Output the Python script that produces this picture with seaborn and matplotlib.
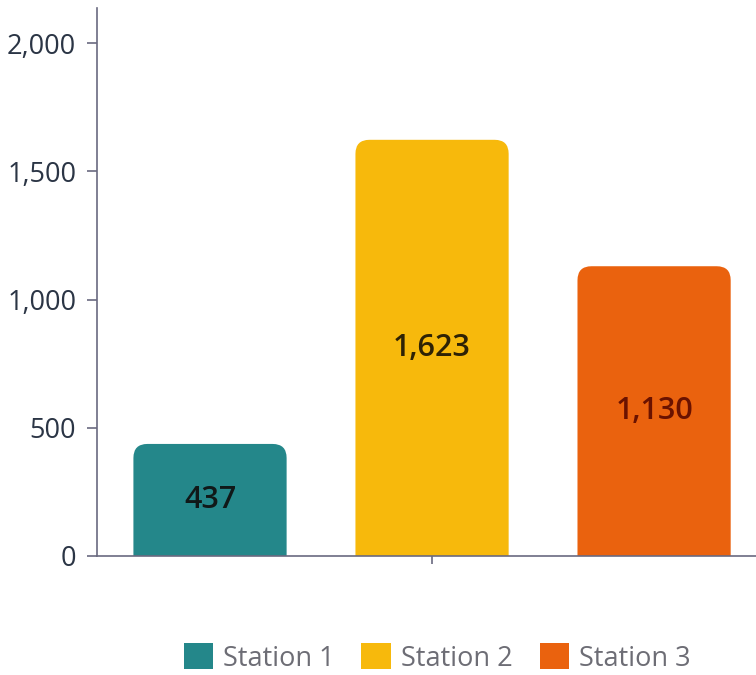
import matplotlib
matplotlib.use("Agg")
import matplotlib.pyplot as plt
import seaborn as sns
import pandas as pd
from matplotlib.patches import FancyBboxPatch, Patch
from matplotlib.ticker import FuncFormatter

stations = ["Station 1", "Station 2", "Station 3"]
values = [437, 1623, 1130]
colors = ["#24878a", "#f7b90c", "#ea620e"]
label_colors = ["#101818", "#2e2205", "#6a1200"]

sns.set_theme(style="white")
plt.rcParams['font.family'] = ['Open Sans', 'DejaVu Sans']

df = pd.DataFrame({"station": stations, "value": values})

fig = plt.figure(figsize=(7.56, 6.75), dpi=100)
ax = fig.add_axes([97/756, 1 - 556/675, 1 - 97/756, (556 - 8)/675])

sns.barplot(data=df, x="station", y="value", hue="station", palette=colors,
            width=0.69, legend=False, ax=ax, saturation=1)

ax.set_xlim(-0.509, 2.459)
ax.set_ylim(0, 2137)

# rounded top corners
ydata_per_px = 2137 / 548
xdata_per_px = (2.459 + 0.509) / 659
aspect = ydata_per_px / xdata_per_px
for p in list(ax.patches):
    x0, y0 = p.get_x(), p.get_y()
    w, h = p.get_width(), p.get_height()
    fc = p.get_facecolor()
    p.remove()
    fb = FancyBboxPatch((x0, -200), w, h + 200,
                        boxstyle=f"round,pad=0,rounding_size={14 * xdata_per_px}",
                        mutation_aspect=aspect, facecolor=fc, edgecolor="none",
                        zorder=2, clip_on=True)
    ax.add_patch(fb)

for i, v in enumerate(values):
    ax.text(i, v / 2, f"{v:,}", ha="center", va="center", fontsize=22,
            fontweight="semibold", color=label_colors[i], zorder=3)

ax.set_yticks([0, 500, 1000, 1500, 2000])
ax.yaxis.set_major_formatter(FuncFormatter(lambda v, _: f"{int(v):,}"))
ax.set_xticks([1])
ax.set_xticklabels([""])
ax.set_xlabel("")
ax.set_ylabel("")
ax.tick_params(axis="y", which="both", left=True, length=7, width=1.2,
               color="#6a6a80", labelsize=19.5, labelcolor="#2b3545", pad=8)
ax.tick_params(axis="x", which="both", bottom=True, length=6, width=1.2,
               color="#6a6a80")
for side in ["top", "right"]:
    ax.spines[side].set_visible(False)
for side in ["left", "bottom"]:
    ax.spines[side].set_color("#6a6a80")
    ax.spines[side].set_linewidth(1.2)
    ax.spines[side].set_zorder(4)

handles = [FancyBboxPatch((0, 0), 1, 1, boxstyle="round,pad=0,rounding_size=0.15",
                          facecolor=c, edgecolor="none") for c in colors]
handles = [Patch(facecolor=c, edgecolor="none") for c in colors]
leg = fig.legend(handles, stations, loc="center", bbox_to_anchor=(437/756, 1 - 658/675),
                 ncol=3, frameon=False, fontsize=19.5, handlelength=1.1, handleheight=1.1,
                 handletextpad=0.35, columnspacing=1.0)
for t in leg.get_texts():
    t.set_color("#6d6d75")

fig.savefig("out.png", dpi=100)
